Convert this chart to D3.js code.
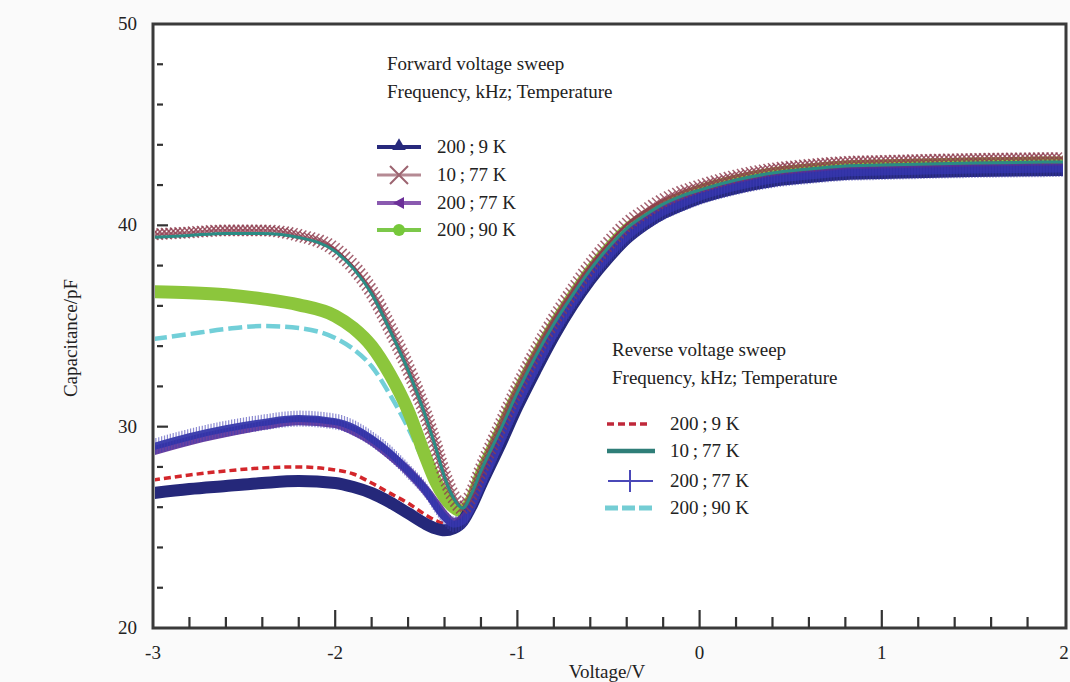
<!DOCTYPE html>
<head>
  <meta charset="utf-8">
  <title>C-V sweep</title>
  <script src="https://d3js.org/d3.v7.min.js"></script>
  <style>
    body { margin: 0; background: #fafafa; }
    text { font-family: 'Liberation Serif', 'Times New Roman', serif; fill: #222; }
    .tick-label { font-size: 19px; }
    .axis-title { font-size: 19px; }
    .legend-title { font-size: 19px; }
    .legend-label { font-size: 19px; }
    .frame { stroke: #3a3a3a; stroke-width: 3; fill: none; }
    .tick { stroke: #333; stroke-width: 2.2; }
  </style>
</head>
<body>
<script>
// voltage grid shared by every sweep
var voltage = [-3, -2.8, -2.6, -2.4, -2.2, -2.0, -1.9, -1.8, -1.7, -1.6, -1.5, -1.45, -1.4, -1.35, -1.3, -1.25, -1.2,
  -1.1, -1.0, -0.9, -0.8, -0.7, -0.6, -0.5, -0.4, -0.3, -0.2, -0.1, 0, 0.2, 0.4, 0.6, 0.8, 1.0, 1.5, 2.0];

// forward sweeps (capacitance, pF)
var fwd200_9K = [26.7, 26.9, 27.05, 27.2, 27.3, 27.2, 27.0, 26.7, 26.25, 25.7, 25.15, 24.95, 24.85, 24.95, 25.3, 26.1, 27.1,
  29.0, 31.0, 32.8, 34.5, 36.0, 37.3, 38.4, 39.35, 40.05, 40.6, 41.0, 41.35, 41.85, 42.2, 42.4, 42.55, 42.6, 42.7, 42.75];
var fwd10_77K = [39.55, 39.65, 39.75, 39.75, 39.5, 38.8, 37.95, 36.7, 34.9, 32.9, 30.5, 29.1, 27.6, 26.5, 25.95, 26.7, 27.85,
  29.9, 31.9, 33.7, 35.3, 36.7, 38.0, 39.1, 40.05, 40.7, 41.25, 41.65, 41.95, 42.45, 42.8, 43.0, 43.15, 43.2, 43.3, 43.35];
var fwd200_77K = [28.8, 29.3, 29.7, 30.05, 30.3, 30.15, 29.8, 29.3, 28.6, 27.8, 26.8, 26.2, 25.6, 25.25, 25.4, 26.1, 27.2,
  29.2, 31.2, 33.0, 34.7, 36.2, 37.5, 38.6, 39.55, 40.25, 40.8, 41.2, 41.55, 42.05, 42.4, 42.6, 42.75, 42.8, 42.9, 42.95];
var fwd200_90K = [36.7, 36.65, 36.55, 36.35, 36.05, 35.5, 34.9, 34.0, 32.6, 30.8, 28.4, 27.3, 26.5, 26.0, 25.8, 26.4, 27.6,
  29.6, 31.6, 33.4, 35.0, 36.4, 37.7, 38.8, 39.75, 40.4, 40.95, 41.35, 41.7, 42.2, 42.55, 42.75, 42.9, 42.95, 43.05, 43.1];

// reverse sweeps (capacitance, pF)
var rev200_9K = [27.35, 27.6, 27.8, 27.95, 28.0, 27.85, 27.65, 27.2, 26.7, 26.2, 25.6, 25.35, 25.2, 25.2, 25.5, 26.3, 27.3,
  29.3, 31.3, 33.1, 34.8, 36.3, 37.6, 38.7, 39.65, 40.35, 40.9, 41.3, 41.65, 42.15, 42.5, 42.7, 42.85, 42.9, 43.0, 43.05];
var rev10_77K = [39.4, 39.5, 39.6, 39.6, 39.4, 38.7, 37.85, 36.6, 34.8, 32.8, 30.4, 29.0, 27.5, 26.45, 25.95, 26.7, 27.8,
  29.7, 31.7, 33.5, 35.1, 36.5, 37.8, 38.9, 39.85, 40.5, 41.05, 41.45, 41.75, 42.25, 42.6, 42.8, 42.95, 43.0, 43.1, 43.15];
var rev200_77K = [29.0, 29.5, 29.9, 30.2, 30.4, 30.25, 29.95, 29.4, 28.7, 27.8, 26.8, 26.1, 25.5, 25.15, 25.3, 26.0, 27.0,
  29.05, 31.05, 32.85, 34.55, 36.05, 37.35, 38.45, 39.4, 40.1, 40.65, 41.05, 41.4, 41.9, 42.25, 42.45, 42.6, 42.65, 42.75, 42.8];
var rev200_90K = [34.35, 34.6, 34.85, 35.0, 34.9, 34.4, 33.85, 33.0, 31.6, 29.95, 28.0, 27.1, 26.4, 25.9, 25.75, 26.35, 27.5,
  29.6, 31.6, 33.4, 35.0, 36.4, 37.7, 38.8, 39.75, 40.4, 40.95, 41.35, 41.7, 42.2, 42.55, 42.75, 42.9, 42.95, 43.05, 43.1];

var fwdLabels = ["200\u2009;\u20099 K", "10\u2009;\u200977 K", "200\u2009;\u200977 K", "200\u2009;\u200990 K"];
var revLabels = ["200\u2009;\u20099 K", "10\u2009;\u200977 K", "200\u2009;\u200977 K", "200\u2009;\u200990 K"];
var xTicks = [-3, -2, -1, 0, 1, 2];
var yTicks = [20, 30, 40, 50];

var W = 1070, H = 682;
var svg = d3.select("body").append("svg").attr("width", W).attr("height", H);

var x = d3.scaleLinear().domain([-3, 2]).range([153, 1064]);
var y = d3.scaleLinear().domain([20, 50]).range([628, 24]);

svg.append("rect").attr("x", x(-3)).attr("y", y(50)).attr("width", x(2) - x(-3)).attr("height", y(20) - y(50))
  .attr("fill", "#fff");

svg.append("defs").append("clipPath").attr("id", "clip")
  .append("rect").attr("x", x(-3) + 2).attr("y", y(50)).attr("width", x(2) - x(-3) - 3).attr("height", y(20) - y(50));

var line = d3.line()
  .x(d => x(d[0]))
  .y(d => y(d[1]))
  .curve(d3.curveMonotoneX);

function pts(vals) { return voltage.map((v, i) => [v, vals[i]]); }

var plot = svg.append("g").attr("clip-path", "url(#clip)");

function drawLine(vals, stroke, width, dash, opacity) {
  return plot.append("path")
    .attr("d", line(pts(vals)))
    .attr("fill", "none")
    .attr("stroke", stroke)
    .attr("stroke-width", width)
    .attr("stroke-dasharray", dash || null)
    .attr("stroke-linejoin", "round")
    .attr("opacity", opacity == null ? 1 : opacity);
}

// markers sampled along a drawn path
function markersAlong(path, step, draw) {
  var node = path.node(), len = node.getTotalLength();
  var g = plot.append("g");
  for (var l = 0; l <= len; l += step) {
    var p = node.getPointAtLength(l);
    draw(g, p.x, p.y);
  }
  return g;
}

// reverse 200;9K red dashed (underneath)
drawLine(rev200_9K, "#d3262b", 3.5, "7,4");
// reverse 200;90K cyan dashed
drawLine(rev200_90K, "#72cfd8", 4.5, "14,5");
// forward 200;90K green circles
drawLine(fwd200_90K, "#8cc63c", 13);
// forward 200;9K navy triangles
drawLine(fwd200_9K, "#25287a", 12);
// forward 200;77K purple
drawLine(fwd200_77K, "#5a2e96", 9, null, 0.9);
// reverse 200;77K blue crosses
var bp = drawLine(rev200_77K, "#2f33a6", 7, null, 0.92);
markersAlong(bp, 3, function(g, px, py) {
  g.append("line").attr("x1", px).attr("x2", px).attr("y1", py - 8).attr("y2", py + 8)
    .attr("stroke", "#3f3cb4").attr("stroke-width", 1.2).attr("opacity", 0.6);
});
// forward 10;77K X markers
var xp = drawLine(fwd10_77K, "#8e3c4e", 2, null, 0.6);
markersAlong(xp, 4.5, function(g, px, py) {
  var s = 5.5;
  g.append("path").attr("d", "M" + (px - s) + "," + (py - s) + "L" + (px + s) + "," + (py + s) +
      "M" + (px - s) + "," + (py + s) + "L" + (px + s) + "," + (py - s))
    .attr("stroke", "#8e3c4e").attr("stroke-width", 1.5).attr("opacity", 0.8);
});
// reverse 10;77K teal
drawLine(rev10_77K, "#2a8c84", 3);

// frame
svg.append("rect").attr("class", "frame")
  .attr("x", x(-3)).attr("y", y(50)).attr("width", x(2) - x(-3) + 2).attr("height", y(20) - y(50));

// x ticks (inward, up from the bottom axis)
var xMinor = d3.range(-3, 2.0001, 0.2).map(d => Math.round(d * 10) / 10);
svg.append("g").selectAll("line").data(xMinor.filter(d => d > -3 && d < 2)).enter().append("line")
  .attr("class", "tick")
  .attr("x1", d => x(d)).attr("x2", d => x(d))
  .attr("y1", y(20)).attr("y2", d => y(20) - (Number.isInteger(d) ? 18 : 11));

// y ticks (inward, right of the left axis)
var yMinor = d3.range(22, 50, 2);
svg.append("g").selectAll("line").data(yMinor).enter().append("line")
  .attr("class", "tick")
  .attr("x1", x(-3) + 4).attr("x2", d => x(-3) + (d % 10 === 0 ? 15 : 10))
  .attr("y1", d => y(d)).attr("y2", d => y(d));

svg.append("g").selectAll("text").data(xTicks).enter().append("text")
  .attr("class", "tick-label")
  .attr("x", d => x(d)).attr("y", 659)
  .attr("text-anchor", "middle")
  .text(d => d);

svg.append("g").selectAll("text").data(yTicks).enter().append("text")
  .attr("class", "tick-label")
  .attr("x", 137).attr("y", d => y(d) + 6)
  .attr("text-anchor", "end")
  .text(d => d);

svg.append("text").attr("class", "axis-title")
  .attr("x", 607).attr("y", 678).attr("text-anchor", "middle").text("Voltage/V");
svg.append("text").attr("class", "axis-title")
  .attr("transform", "translate(77,338) rotate(-90)")
  .attr("text-anchor", "middle").text("Capacitance/pF");

// forward legend
var lf = svg.append("g");
lf.append("text").attr("class", "legend-title").attr("x", 387).attr("y", 70).text("Forward voltage sweep");
lf.append("text").attr("class", "legend-title").attr("x", 387).attr("y", 98).text("Frequency, kHz; Temperature");
var fRows = [147, 175, 203, 230];
fRows.forEach(function(ry, i) {
  lf.append("text").attr("class", "legend-label").attr("x", 437).attr("y", ry + 6).text(fwdLabels[i]);
});
lf.append("line").attr("x1", 377).attr("x2", 421).attr("y1", fRows[0]).attr("y2", fRows[0])
  .attr("stroke", "#27297c").attr("stroke-width", 4);
lf.append("path").attr("d", d3.symbol(d3.symbolTriangle, 80)()).attr("transform", "translate(399," + (fRows[0] - 1) + ")")
  .attr("fill", "#27297c");
lf.append("line").attr("x1", 377).attr("x2", 421).attr("y1", fRows[1]).attr("y2", fRows[1])
  .attr("stroke", "#b58a94").attr("stroke-width", 3);
lf.append("path").attr("d", "M390," + (fRows[1] - 9) + "L408," + (fRows[1] + 9) + "M390," + (fRows[1] + 9) + "L408," + (fRows[1] - 9))
  .attr("stroke", "#9c6470").attr("stroke-width", 2);
lf.append("line").attr("x1", 377).attr("x2", 421).attr("y1", fRows[2]).attr("y2", fRows[2])
  .attr("stroke", "#8a5ab0").attr("stroke-width", 4);
lf.append("path").attr("d", "M393," + fRows[2] + "L404," + (fRows[2] - 6) + "L404," + (fRows[2] + 6) + "Z")
  .attr("fill", "#6b2f98");
lf.append("line").attr("x1", 377).attr("x2", 421).attr("y1", fRows[3]).attr("y2", fRows[3])
  .attr("stroke", "#7cc84a").attr("stroke-width", 4);
lf.append("circle").attr("cx", 399).attr("cy", fRows[3]).attr("r", 6).attr("fill", "#76c83a");

// reverse legend
var lr = svg.append("g");
lr.append("text").attr("class", "legend-title").attr("x", 612).attr("y", 356).text("Reverse voltage sweep");
lr.append("text").attr("class", "legend-title").attr("x", 612).attr("y", 384).text("Frequency, kHz; Temperature");
var rRows = [424, 451, 481, 508];
rRows.forEach(function(ry, i) {
  lr.append("text").attr("class", "legend-label").attr("x", 670).attr("y", ry + 6).text(revLabels[i]);
});
lr.append("line").attr("x1", 607).attr("x2", 651).attr("y1", rRows[0]).attr("y2", rRows[0])
  .attr("stroke", "#c0283a").attr("stroke-width", 3.5).attr("stroke-dasharray", "7,4");
lr.append("line").attr("x1", 607).attr("x2", 655).attr("y1", rRows[1]).attr("y2", rRows[1])
  .attr("stroke", "#2f7e78").attr("stroke-width", 4.5);
lr.append("line").attr("x1", 608).attr("x2", 653).attr("y1", rRows[2]).attr("y2", rRows[2])
  .attr("stroke", "#4a48b8").attr("stroke-width", 2);
lr.append("line").attr("x1", 630).attr("x2", 630).attr("y1", rRows[2] - 11).attr("y2", rRows[2] + 11)
  .attr("stroke", "#4a48b8").attr("stroke-width", 2);
lr.append("line").attr("x1", 605).attr("x2", 652).attr("y1", rRows[3]).attr("y2", rRows[3])
  .attr("stroke", "#74cdd4").attr("stroke-width", 5).attr("stroke-dasharray", "13,4");
</script>
</body>
